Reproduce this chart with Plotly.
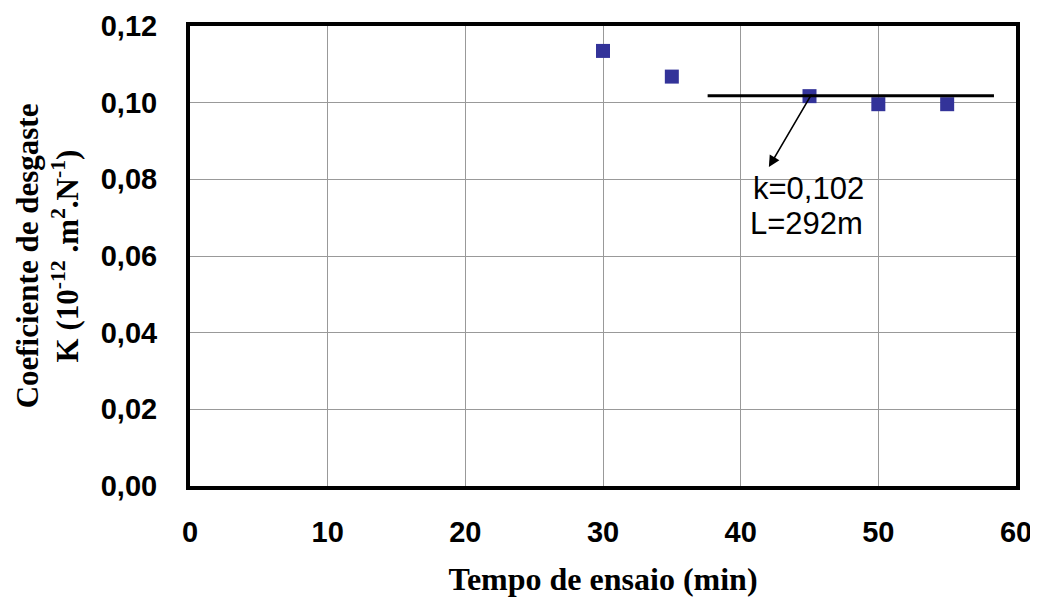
import plotly.graph_objects as go

# Data
tempo_min = [30, 35, 45, 50, 55]
coef_k = [0.1135, 0.1068, 0.1017, 0.0996, 0.0996]

fit_x = [37.6, 58.4]
fit_k = [0.1018, 0.1018]

x_ticks = [0, 10, 20, 30, 40, 50, 60]
y_ticks = [0.00, 0.02, 0.04, 0.06, 0.08, 0.10, 0.12]
y_tick_labels = ["0,00", "0,02", "0,04", "0,06", "0,08", "0,10", "0,12"]

fig = go.Figure()

fig.add_trace(go.Scatter(
    x=tempo_min, y=coef_k, mode="markers",
    marker=dict(symbol="square", size=14, color="#333399"),
    showlegend=False, cliponaxis=False,
))

fig.add_trace(go.Scatter(
    x=fit_x, y=fit_k, mode="lines",
    line=dict(color="black", width=3),
    showlegend=False,
))

fig.add_annotation(
    x=42.05, y=0.0832, xref="x", yref="y",
    ax=45.2, ay=0.1025, axref="x", ayref="y",
    showarrow=True, arrowhead=2, arrowsize=1.4, arrowwidth=1.6,
    arrowcolor="black", text="",
)

label_font = dict(family="Liberation Sans, Arial", size=31, color="black")
fig.add_annotation(x=44.9, y=0.0777, xref="x", yref="y",
                   text="k=0,102", showarrow=False, font=label_font)
fig.add_annotation(x=44.8, y=0.0686, xref="x", yref="y",
                   text="L=292m", showarrow=False, font=label_font)

fig.update_layout(
    width=1030, height=597,
    margin=dict(l=182, r=22, t=18, b=119),
    paper_bgcolor="white", plot_bgcolor="white",
    font=dict(family="Liberation Sans, Arial", color="black"),
    xaxis=dict(
        range=[0, 60], tickvals=x_ticks, ticktext=[str(v) for v in x_ticks],
        tickfont=dict(family="Liberation Sans, Arial", size=29, color="black", weight="bold"),
        showgrid=True, gridcolor="#999999", gridwidth=1,
        showline=True, linecolor="black", linewidth=4, mirror=True,
        zeroline=False, ticks="outside", ticklen=17, tickcolor="white",
        automargin=False,
        title=dict(text="Tempo de ensaio (min)",
                   font=dict(family="Liberation Serif, Times New Roman", size=32, color="black", weight="bold"),
                   standoff=22),
    ),
    yaxis=dict(
        range=[0, 0.12], tickvals=y_ticks, ticktext=y_tick_labels,
        tickfont=dict(family="Liberation Sans, Arial", size=29, color="black", weight="bold"),
        showgrid=True, gridcolor="#999999", gridwidth=1,
        showline=True, linecolor="black", linewidth=4, mirror=True,
        zeroline=False, ticks="outside", ticklen=23, tickcolor="white",
        automargin=False,
        title=dict(text="Coeficiente de desgaste<br>K (10<sup>-12</sup> .m<sup>2</sup>.N<sup>-1</sup>)",
                   font=dict(family="Liberation Serif, Times New Roman", size=31, color="black", weight="bold"),
                   standoff=14),
    ),
)

fig.write_html("out.html")
